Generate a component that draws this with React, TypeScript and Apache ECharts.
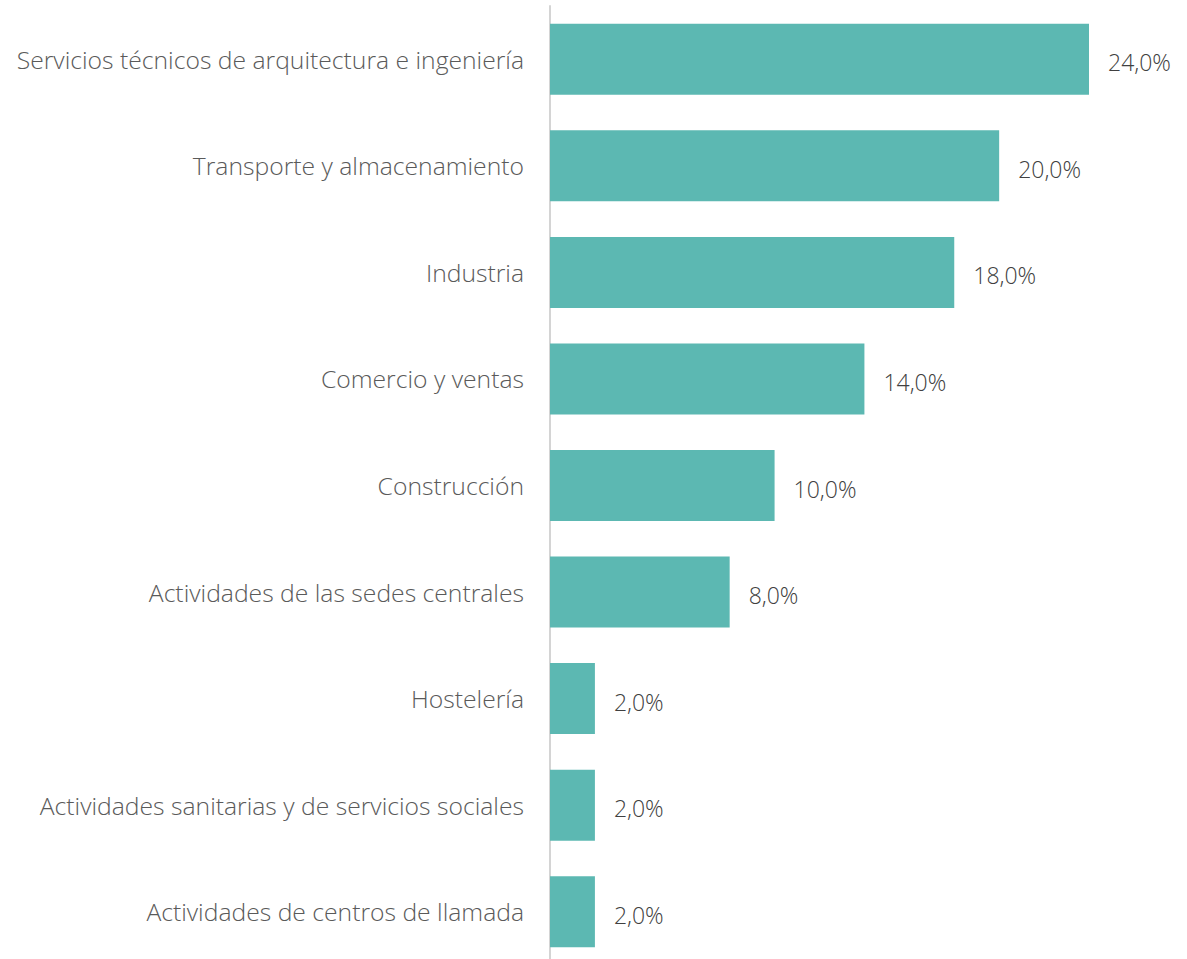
import React, { useEffect, useRef } from "react";
import * as echarts from "echarts";

const categories = [
  "Servicios técnicos de arquitectura e ingeniería",
  "Transporte y almacenamiento",
  "Industria",
  "Comercio y ventas",
  "Construcción",
  "Actividades de las sedes centrales",
  "Hostelería",
  "Actividades sanitarias y de servicios sociales",
  "Actividades de centros de llamada",
];
const values = [24, 20, 18, 14, 10, 8, 2, 2, 2];

export default function App() {
  const ref = useRef<HTMLDivElement>(null);
  useEffect(() => {
    if (!ref.current) return;
    const chart = echarts.init(ref.current, undefined, { renderer: "svg" });
    chart.setOption({
      animation: false,
      grid: { left: 550, right: 98, top: 6, bottom: 0, containLabel: false },
      xAxis: {
        type: "value",
        min: 0,
        max: 24,
        show: false,
      },
      yAxis: {
        type: "category",
        data: categories,
        inverse: true,
        axisLine: { show: true, lineStyle: { color: "#d4d4d4", width: 2 } },
        axisTick: { show: false },
        axisLabel: {
          margin: 26,
          color: "#5a5a5a",
          fontFamily: "Open Sans",
          fontWeight: 300,
          fontSize: 24.7,
        },
      },
      series: [
        {
          type: "bar",
          data: values,
          barWidth: 71,
          itemStyle: { color: "#5cb8b2" },
          label: {
            show: true,
            position: "right",
            distance: 19,
            offset: [0, 3],
            color: "#404040",
            fontFamily: "Open Sans",
            fontWeight: 300,
            fontSize: 23,
            formatter: (p: any) => p.value.toFixed(1).replace(".", ",") + "%",
          },
        },
      ],
    });
    return () => chart.dispose();
  }, []);
  return (
    <div style={{ position: "absolute", left: 0, top: 0, width: 1187, height: 959, overflow: "hidden", background: "#fff" }}>
      <div ref={ref} style={{ width: 1187, height: 965 }} />
    </div>
  );
}
